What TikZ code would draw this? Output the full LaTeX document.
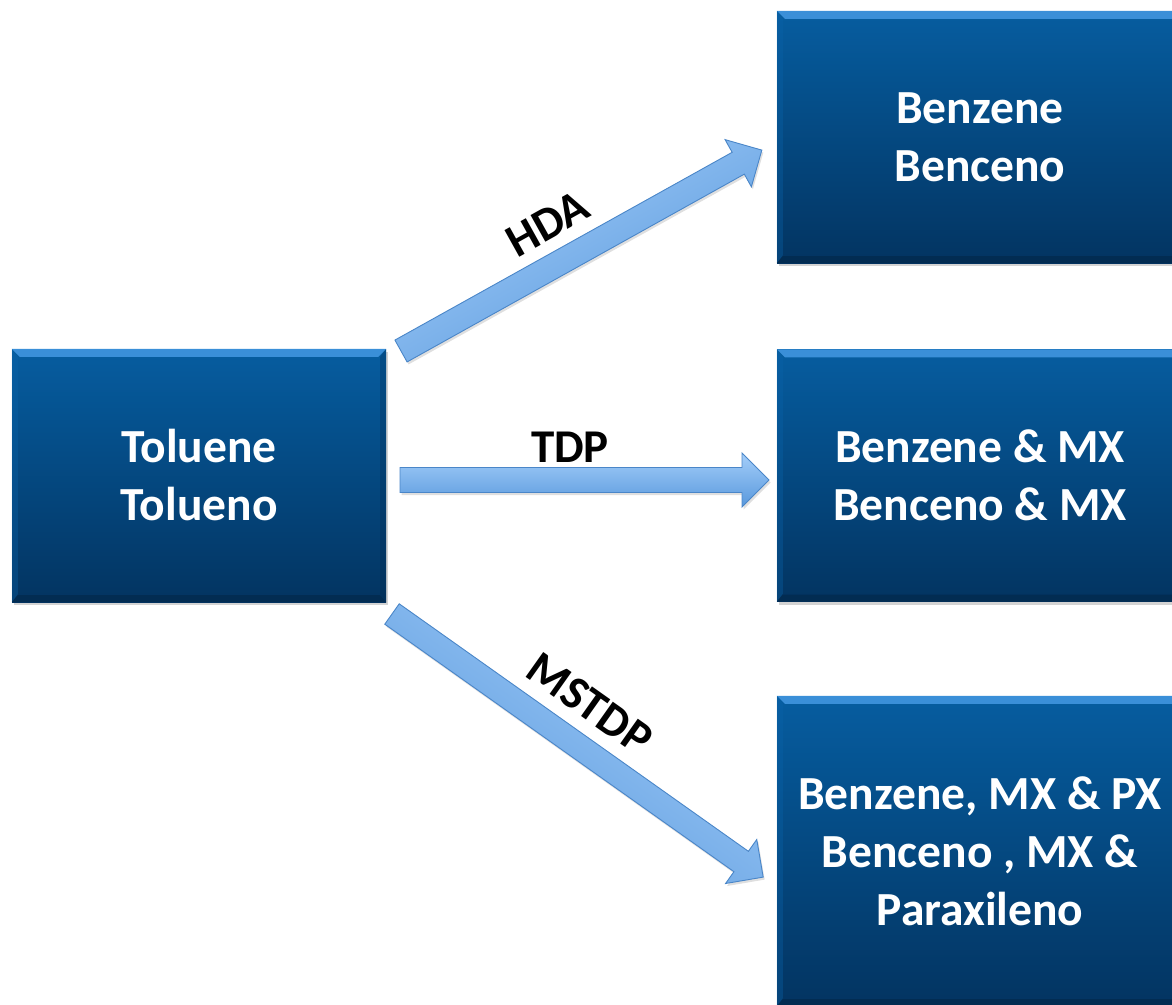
\documentclass[tikz,border=0pt]{standalone}
\usepackage{fontspec}
\setmainfont{Carlito}
\usetikzlibrary{shadows}
\definecolor{boxtop}{HTML}{065DA0}
\definecolor{boxbot}{HTML}{033461}
\definecolor{bevlight}{HTML}{3A8FD8}
\definecolor{bevside}{HTML}{0A63AA}
\definecolor{bevdark}{HTML}{022A4E}
\definecolor{arrlight}{HTML}{A4CEFA}
\definecolor{arrdark}{HTML}{5898DC}
\definecolor{arredge}{HTML}{4A86C8}
\tikzset{
  boxnode/.style={rectangle, inner sep=0pt, draw=none,
    top color=boxtop, bottom color=boxbot, text=white, align=center,
    font=\fontsize{47.5}{58}\selectfont\bfseries,
    drop shadow={shadow xshift=2pt, shadow yshift=-3pt, opacity=0.35}},
  lbl/.style={text=black, inner sep=0pt, font=\fontsize{47}{54}\selectfont\bfseries},
  arrowbody/.style={draw=arredge, line width=0.9pt, line join=miter,
    drop shadow={shadow xshift=1.5pt, shadow yshift=-2.5pt, opacity=0.25}}
}
% bevel edges of a box node
\newcommand\bevelbox[1]{%
  \fill[bevlight] (#1.north west) -- (#1.north east) -- ([xshift=-8pt,yshift=-8pt]#1.north east) -- ([xshift=8pt,yshift=-8pt]#1.north west) -- cycle;
  \fill[bevside, opacity=0.35] (#1.north west) -- ([xshift=6pt,yshift=-8pt]#1.north west) -- ([xshift=6pt,yshift=8pt]#1.south west) -- (#1.south west) -- cycle;
  \fill[bevdark, opacity=0.3] (#1.north east) -- ([xshift=-6pt,yshift=-8pt]#1.north east) -- ([xshift=-6pt,yshift=8pt]#1.south east) -- (#1.south east) -- cycle;
  \fill[bevdark, opacity=0.8] (#1.south west) -- (#1.south east) -- ([xshift=-6pt,yshift=7pt]#1.south east) -- ([xshift=6pt,yshift=7pt]#1.south west) -- cycle;
}
% block arrow from a named tail coordinate, angle, length
\newcommand\blockarrow[3]{%
  \begin{scope}[shift={(#1)}, rotate=#2]
    \path[arrowbody, top color=arrlight, bottom color=arrdark, shading angle=#2]
      (0,-12.5) -- ({#3-27},-12.5) -- ({#3-27},-27) -- (#3,0)
      -- ({#3-27},27) -- ({#3-27},12.5) -- (0,12.5) -- cycle;
  \end{scope}}
\begin{document}
\begin{tikzpicture}[x=1pt, y=-1pt]
  \useasboundingbox (0,0) rectangle (1172,1004);
  \clip (0,0) rectangle (1172,1004);
  % boxes
  \node[boxnode, minimum width=374pt, minimum height=253pt] (tol) at (199,475.5) {Toluene\\Tolueno};
  \node[boxnode, minimum width=406pt, minimum height=252pt] (ben) at (980,137) {Benzene\\Benceno};
  \node[boxnode, minimum width=406pt, minimum height=252pt] (bmx) at (980,475.5) {Benzene \& MX\\Benceno \& MX};
  \node[boxnode, minimum width=406pt, minimum height=310pt] (bpx) at (980,851) {Benzene, MX \& PX\\Benceno , MX \&\\Paraxileno};
  \bevelbox{tol}
  \bevelbox{ben}
  \bevelbox{bmx}
  \bevelbox{bpx}
  % connector end points
  \coordinate (hdaT) at (401,351);
  \coordinate (hdaH) at (762,150);
  \coordinate (tdpT) at (400,480);
  \coordinate (tdpH) at (769,480);
  \coordinate (msT) at (392,614);
  \coordinate (msH) at (763,877);
  \blockarrow{hdaT}{29.11}{413}
  \blockarrow{tdpT}{0}{369}
  \blockarrow{msT}{-35.33}{455}
  % labels
  \node[lbl, anchor=base, rotate=29.11] (hdaL) at (555,237) {HDA};
  \node[lbl, anchor=base] (tdpL) at (570,462) {TDP};
  \node[lbl, anchor=base, rotate=-35.33] (msL) at (581,716) {MSTDP};
\end{tikzpicture}
\end{document}
